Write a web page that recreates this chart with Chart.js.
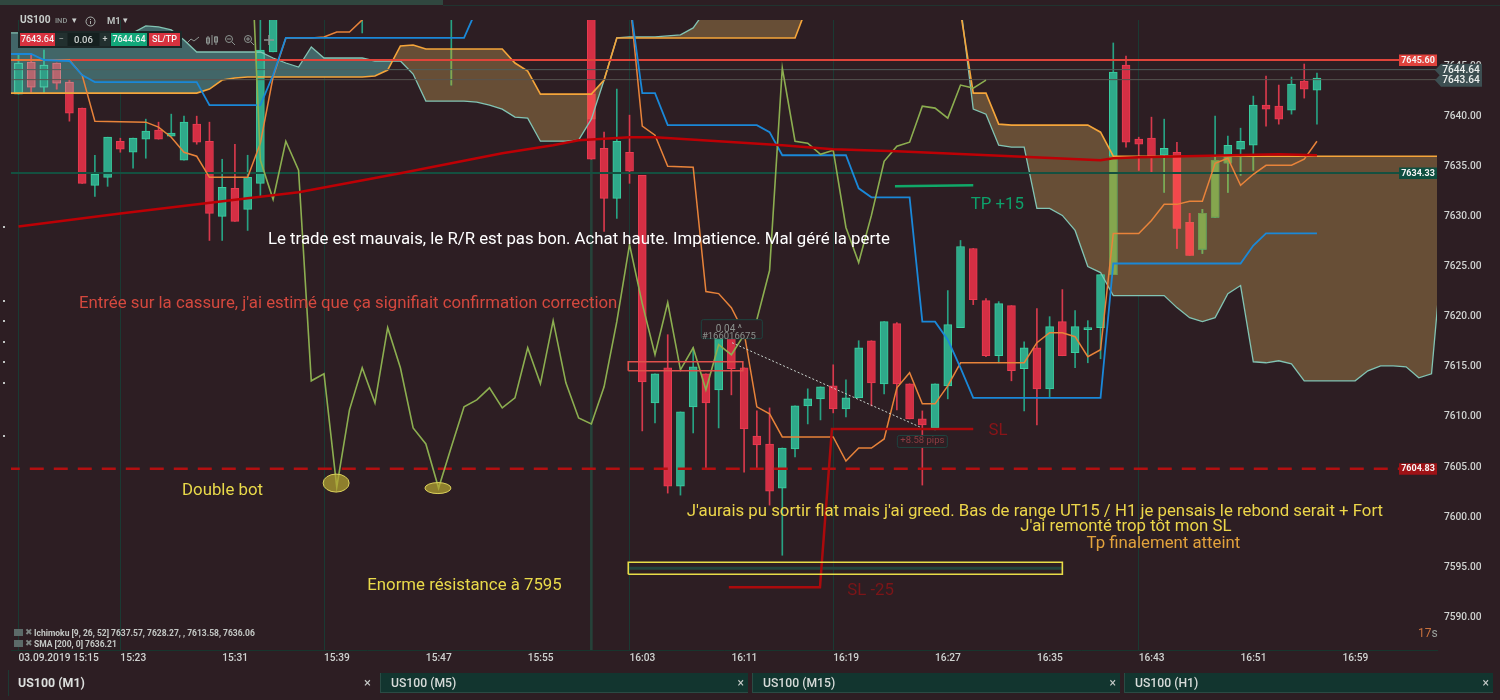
<!DOCTYPE html>
<html>
<head>
<meta charset="utf-8">
<title>US100 (M1)</title>
<script src="https://cdn.jsdelivr.net/npm/chart.js@4"></script>
<style>
    body { margin: 0; width: 1500px; height: 700px; overflow: hidden; background: #2d1e23; font-family: Roboto, sans-serif; position: relative; }
    canvas { position: absolute; left: 0; top: 0; }
    .ui { position: absolute; white-space: nowrap; }
    .box { text-align: center; height: 13px; line-height: 13px; font-size: 9px; font-weight: 500; color: #f4f4f4; top: 33px; }
    .tab { top: 673px; height: 20px; line-height: 20px; background: #12352f; border-left: 1px solid #2a4b44; border-bottom: 1px solid #2a4b44; box-sizing: border-box; color: #d8dcda; font-size: 12.2px; font-weight: 500; padding-left: 10px; }
    .tab span { position: absolute; right: 4px; top: 0; font-weight: 400; color: #c8ccca; }
    .tool { top: 34px; }
</style>
</head>
<body>
<canvas id="chart" width="1500" height="700"></canvas>

<div class="ui" style="left:0;top:0;width:443px;height:5px;background:#30473f"></div>
<div class="ui" style="left:443px;top:5px;width:1057px;height:1px;background:#20332f"></div>

<div class="ui" style="left:20px;top:14px;font-size:10.2px;font-weight:700;color:#c9cecb">US100</div>
<div class="ui" style="left:55px;top:16px;font-size:7.5px;font-weight:500;color:#8f9693">IND</div>
<div class="ui" style="left:72px;top:15px;font-size:9px;color:#c9cecb">▾</div>
<svg class="ui" style="left:85px;top:16px" width="11" height="11"><circle cx="5.5" cy="5.5" r="4.5" fill="none" stroke="#a9afac"/><path d="M5.5 5v3M5.5 3v1" stroke="#a9afac"/></svg>
<div class="ui" style="left:107px;top:15px;font-size:9.5px;font-weight:700;color:#b9bfbc">M1</div>
<div class="ui" style="left:123px;top:15px;font-size:9px;color:#c9cecb">▾</div>

<div class="ui" style="left:18px;top:31px;width:164px;height:17px;background:#1c2727"></div>
<div class="ui box" style="left:20px;width:35px;background:#d9323f">7643.64</div>
<div class="ui box" style="left:55px;width:12px;background:#22302f;color:#9aa19e">−</div>
<div class="ui box" style="left:68px;width:31px;background:#15201f;color:#d2d6d4;font-size:9.5px">0.06</div>
<div class="ui box" style="left:100px;width:10px;background:#22302f;color:#c5cac8">+</div>
<div class="ui box" style="left:111px;width:36px;background:#12a87a">7644.64</div>
<div class="ui box" style="left:149px;width:31px;background:#d9323f">SL/TP</div>
<svg class="ui tool" style="left:186px" width="100" height="12" fill="none" stroke="#8d9491">
    <path d="M1 9l4-4 3 2 5-4"/>
    <path d="M22 2v9M26 1v10M30 2v9"/><rect x="20.5" y="4" width="3" height="5"/><rect x="28.5" y="3" width="3" height="5"/>
    <circle cx="43" cy="5" r="3.5"/><path d="M46 8l3 3M41 5h4"/>
    <circle cx="62" cy="5" r="3.5"/><path d="M65 8l3 3M60 5h4M62 3v4"/>
    <path d="M83 1v10M78 6h10" stroke-width="1.5"/>
</svg>

<div class="ui" style="left:34px;top:628px;font-size:8.5px;font-weight:700;color:#c4c8c5">Ichimoku [9, 26, 52] 7637.57, 7628.27, , 7613.58, 7636.06</div>
<div class="ui" style="left:34px;top:639px;font-size:8.5px;font-weight:700;color:#c4c8c5">SMA [200, 0] 7636.21</div>
<div class="ui" style="left:14px;top:629px;width:9px;height:7px;background:#5c6a68"></div>
<div class="ui" style="left:14px;top:640px;width:9px;height:7px;background:#5c6a68"></div>
<div class="ui" style="left:25px;top:627px;font-size:9px;color:#7d8583">✖</div>
<div class="ui" style="left:25px;top:638px;font-size:9px;color:#7d8583">✖</div>
<div class="ui" style="left:1418px;top:626px;font-size:12px;color:#c8703c">17<span style="color:#9aa09c">s</span></div>

<div class="ui" style="left:8px;top:670px;width:1px;height:26px;background:#1d3a34"></div>
<div class="ui" style="left:18px;top:673px;line-height:20px;font-size:12.4px;font-weight:700;color:#dcdfdd">US100 (M1)</div>
<div class="ui" style="left:364px;top:673px;line-height:20px;font-size:13px;color:#c8ccca">×</div>
<div class="ui tab" style="left:380px;width:368px">US100 (M5)<span>×</span></div>
<div class="ui tab" style="left:752px;width:368px">US100 (M15)<span>×</span></div>
<div class="ui tab" style="left:1124px;width:369px">US100 (H1)<span>×</span></div>

<script>
// candles, one per minute from 15:15 (index 0), prices
const opens = [
    7642.2, 7645.4, 7642.9, 7645.3, 7643.4, 7640.8, 7633.1, 7633.9, 7637.5, 7636.4,
    7637.7, 7638.6, 7638.0, 7635.6, 7639.2, 7637.5, 7630.0, 7632.8, 7630.7, 7633.3,
    7646.4, null, null, null, null, null, null, null, null, null,
    null, null, null, null, null, null, null, null, null, null,
    null, null, null, null, null, 7652.0, 7636.8, 7631.8, 7636.4, 7634.1,
    7611.4, 7614.9, 7603.1, 7611.0, 7614.3, 7612.7, 7617.9, 7614.9, 7608.1, 7607.3,
    7602.9, 7606.8, 7611.1, 7611.8, 7613.1, 7610.8, 7611.9, 7617.6, 7613.3, 7619.3,
    7613.3, 7609.8, 7608.9, 7613.1, 7618.9, 7626.8, 7621.6, 7616.1, 7621.1, 7614.8,
    7616.9, 7612.8, 7619.5, 7616.4, 7618.7, 7618.9, 7624.2, 7645.1, 7637.7, 7637.8,
    7636.1, 7636.4, 7629.4, 7626.7, 7629.9, 7635.3, 7636.7, 7637.1, 7641.1, 7641.0,
    7640.6, 7643.5, 7642.6
];
const closes = [
    7645.3, 7642.9, 7645.1, 7643.3, 7640.3, 7633.3, 7634.2, 7637.9, 7636.7, 7637.8,
    7638.5, 7637.7, 7638.3, 7639.4, 7637.4, 7630.3, 7632.9, 7629.5, 7633.9, 7646.6,
    7652.0, null, null, null, null, null, null, null, null, null,
    null, null, null, null, null, null, null, null, null, null,
    null, null, null, null, null, 7635.7, 7631.8, 7637.5, 7634.5, 7613.5,
    7614.3, 7603.1, 7610.5, 7615.0, 7611.4, 7618.9, 7614.8, 7608.8, 7607.2, 7602.6,
    7606.9, 7611.1, 7611.8, 7613.0, 7610.8, 7611.9, 7616.9, 7613.4, 7619.5, 7613.3,
    7609.8, 7609.2, 7613.3, 7619.2, 7627.0, 7621.7, 7616.1, 7621.3, 7614.6, 7616.9,
    7612.8, 7619.0, 7616.1, 7619.0, 7618.9, 7624.2, 7644.4, 7637.4, 7637.2, 7636.0,
    7636.8, 7628.8, 7626.1, 7630.3, 7635.6, 7637.1, 7637.5, 7641.1, 7640.7, 7639.7,
    7643.2, 7642.7, 7643.8
];
const highs = [
    7646.1, 7646.1, 7646.6, 7645.3, 7643.6, 7640.8, 7636.1, 7637.9, 7637.8, 7637.8,
    7639.7, 7639.4, 7640.2, 7640.0, 7640.0, 7639.4, 7635.7, 7637.2, 7636.1, 7652.0,
    7652.0, null, null, null, null, null, null, 7652.0, null, null,
    null, null, null, null, 7652.0, null, null, null, null, null,
    null, null, null, null, null, 7652.0, 7638.4, 7642.7, 7640.1, 7634.1,
    7614.3, 7618.2, 7610.5, 7616.9, 7614.3, 7618.9, 7617.9, 7614.9, 7610.6, 7610.9,
    7606.9, 7611.1, 7612.8, 7613.0, 7615.2, 7613.7, 7617.6, 7617.6, 7619.5, 7619.4,
    7613.3, 7610.6, 7613.3, 7622.6, 7627.6, 7626.8, 7621.8, 7621.5, 7621.1, 7617.5,
    7620.8, 7620.0, 7622.7, 7620.6, 7619.6, 7624.2, 7647.3, 7646.0, 7637.9, 7639.9,
    7639.7, 7637.4, 7630.3, 7630.7, 7640.0, 7638.0, 7638.8, 7642.0, 7644.0, 7643.1,
    7643.9, 7645.2, 7644.3
];
const lows = [
    7642.2, 7642.4, 7642.3, 7642.7, 7639.5, 7633.3, 7632.0, 7633.0, 7636.4, 7634.8,
    7635.8, 7637.7, 7638.0, 7635.6, 7637.2, 7627.6, 7627.6, 7629.5, 7628.6, 7631.9,
    7646.4, null, null, null, null, null, null, 7648.3, null, null,
    null, null, null, null, 7643.1, null, null, null, null, null,
    null, null, null, null, null, 7635.7, 7628.5, 7629.8, 7633.3, 7608.6,
    7609.4, 7602.4, 7602.2, 7608.4, 7604.9, 7608.9, 7612.2, 7604.5, 7604.9, 7601.2,
    7596.2, 7606.0, 7609.3, 7609.7, 7610.4, 7610.0, 7611.9, 7611.1, 7612.3, 7610.7,
    7609.8, 7603.2, 7608.7, 7611.8, 7618.9, 7621.2, 7616.0, 7615.4, 7613.6, 7610.6,
    7609.2, 7611.9, 7616.1, 7614.9, 7615.4, 7615.8, 7624.2, 7636.9, 7634.6, 7634.3,
    7632.4, 7626.8, 7626.1, 7626.3, 7629.9, 7632.4, 7634.1, 7634.6, 7639.0, 7639.2,
    7640.2, 7641.8, 7639.2
];

// ichimoku cloud edges, first value is index -1, last is index 112
const spanA = [
    7642.3, 7642.3, 7642.3, 7642.3, 7642.3, 7642.3, 7642.3, 7642.3, 7642.3, 7642.3,
    7642.3, 7642.3, 7642.3, 7642.3, 7642.3, 7642.3, 7642.7, 7643.6, 7643.8, 7643.9,
    7643.9, 7643.9, 7643.9, 7643.9, 7643.9, 7643.9, 7643.9, 7643.9, 7643.9, 7644.0,
    7644.6, 7647.0, 7647.1, 7646.7, 7646.7, 7646.7, 7646.7, 7646.7, 7646.7, 7646.7,
    7645.3, 7644.5, 7642.2, 7642.2, 7642.2, 7642.2, 7642.2, 7643.6, 7647.8, 7647.8,
    7647.8, 7647.8, 7647.8, 7647.8, 7647.8, 7647.8, 7647.8, 7647.8, 7647.8, 7647.8,
    7647.8, 7647.8, 7647.8, 7651.1, 7651.1, 7651.1, 7651.1, 7651.1, 7651.1, 7651.1,
    7651.1, 7651.1, 7651.1, 7651.1, 7651.1, 7650.4, 7642.3, 7642.3, 7639.2, 7639.1,
    7639.1, 7639.1, 7639.1, 7639.1, 7639.1, 7639.1, 7638.4, 7636.0, 7636.0, 7636.0,
    7636.0, 7636.0, 7636.0, 7636.0, 7636.0, 7636.0, 7636.0, 7636.0, 7636.0, 7636.0,
    7636.0, 7636.0, 7636.0, 7636.0, 7636.0, 7636.0, 7636.0, 7636.0, 7636.0, 7636.0,
    7636.0, 7636.0, 7636.0, 7636.0
];
const spanB = [
    7648.3, 7648.3, 7648.3, 7648.3, 7648.3, 7648.3, 7648.3, 7648.3, 7648.3, 7648.3,
    7648.3, 7649.0, 7648.9, 7648.6, 7647.6, 7646.4, 7646.4, 7646.4, 7646.4, 7646.4,
    7646.4, 7645.8, 7645.3, 7644.9, 7646.9, 7645.8, 7645.8, 7645.8, 7645.8, 7645.5,
    7645.5, 7645.5, 7644.2, 7641.5, 7641.5, 7641.5, 7641.5, 7641.4, 7641.1, 7640.7,
    7639.9, 7639.8, 7637.5, 7637.5, 7637.5, 7637.6, 7639.7, 7643.6, 7647.8, 7647.9,
    7647.9, 7647.9, 7648.0, 7648.1, 7648.8, 7650.6, 7650.6, 7650.6, 7650.6, 7650.6,
    7650.6, 7650.6, 7650.6, 7650.6, 7650.6, 7650.6, 7650.6, 7650.6, 7650.6, 7650.6,
    7650.6, 7650.6, 7650.6, 7650.6, 7650.6, 7651.1, 7640.7, 7640.2, 7637.1, 7636.9,
    7636.9, 7630.8, 7630.8, 7630.1, 7628.6, 7625.0, 7624.4, 7622.1, 7622.1, 7622.1,
    7622.1, 7622.1, 7620.9, 7619.9, 7619.5, 7619.9, 7622.3, 7623.1, 7615.5, 7615.4,
    7615.6, 7615.3, 7613.6, 7613.6, 7613.6, 7613.6, 7613.6, 7614.6, 7615.1, 7615.1,
    7615.0, 7613.9, 7614.3, 7628.6
];

// lagging span, index 18 to 76
const chikouStart = 18;
const chikou = [
    7665.0, 7635.6, 7631.7, 7637.5, 7634.6, 7613.6, 7614.3, 7603.0, 7610.7, 7614.9,
    7611.4, 7618.9, 7614.9, 7608.9, 7607.3, 7602.9, 7607.0, 7611.0, 7611.7, 7612.9,
    7610.9, 7611.9, 7616.9, 7613.3, 7619.6, 7613.4, 7609.9, 7609.3, 7613.0, 7619.5,
    7627.2, 7621.3, 7616.2, 7621.4, 7614.7, 7616.9, 7612.7, 7617.2, 7616.2, 7618.2,
    7619.7, 7624.6, 7644.8, 7637.5, 7637.3, 7636.2, 7636.6, 7628.9, 7625.4, 7630.1,
    7635.5, 7637.0, 7637.4, 7641.0, 7640.8, 7639.8, 7643.1, 7642.8, 7643.6
];

// base and conversion lines only change at these indexes; null is a stretch above the window
const kijunIdx = [-1, 1, 2, 4, 5, 6, 14, 15, 19, 20, 21, 35, 36, 37, 48, 49, 50, 51, 58, 59, 60, 65, 66, 67, 70, 71, 72, 73, 74, 75, 85, 86, 96, 97, 98, 102];
const kijun = [7646.2, 7646.2, 7645.6, 7645.5, 7644.1, 7643.4, 7643.4, 7641.1, 7641.1, 7644.1, 7647.8, 7647.8, 7650.7, null, 7651.6, 7642.3, 7642.3, 7639.1, 7639.1, 7638.4, 7636.1, 7636.1, 7632.8, 7631.9, 7631.9, 7619.5, 7619.5, 7617.7, 7614.9, 7611.9, 7611.9, 7625.3, 7625.3, 7627.1, 7628.3, 7628.3];
const tenkanIdx = [-1, 4, 5, 6, 10, 11, 12, 13, 14, 15, 18, 19, 20, 21, 23, 24, 25, 26, 27, 28, 29, 48, 49, 50, 51, 53, 54, 55, 56, 57, 58, 59, 60, 64, 65, 66, 67, 68, 69, 70, 71, 72, 73, 74, 79, 80, 81, 82, 83, 84, 85, 86, 88, 89, 90, 91, 92, 93, 94, 95, 96, 97, 98, 100, 101, 102];
const tenkan = [7645.6, 7645.6, 7644.1, 7639.5, 7639.4, 7638.9, 7637.9, 7636.4, 7636.0, 7633.9, 7633.9, 7637.3, 7643.9, 7647.8, 7647.8, 7647.9, 7648.4, 7648.4, 7649.6, 7651.1, null, 7651.9, 7639.0, 7638.1, 7635.0, 7634.9, 7622.5, 7622.3, 7620.9, 7618.4, 7611.0, 7610.3, 7608.0, 7608.0, 7605.6, 7606.9, 7606.9, 7607.8, 7612.9, 7614.4, 7611.3, 7611.3, 7613.1, 7615.4, 7615.4, 7617.4, 7618.4, 7618.4, 7618.0, 7616.0, 7616.7, 7628.3, 7628.3, 7629.6, 7631.2, 7631.2, 7631.5, 7631.5, 7635.3, 7635.8, 7633.1, 7634.2, 7635.1, 7635.1, 7635.7, 7637.5];
const smaIdx = [0, 8, 18, 22, 30, 38, 42, 44, 48, 50, 60, 64, 69, 78, 85, 86, 88, 99, 102];
const sma = [7629.0, 7630.3, 7631.8, 7632.4, 7634.3, 7636.3, 7637.1, 7637.6, 7637.9, 7637.9, 7637.1, 7636.7, 7636.5, 7636.0, 7635.6, 7635.8, 7635.9, 7636.2, 7636.1];

// axis
const timeTicks = [0, 8, 16, 24, 32, 40, 48, 56, 64, 72, 80, 88, 96, 104];
const timeLabels = ['03.09.2019 15:15', '15:23', '15:31', '15:39', '15:47', '15:55', '16:03', '16:11', '16:19', '16:27', '16:35', '16:43', '16:51', '16:59'];
const gridTicks = [0, 8, 24, 48, 64, 88];
const priceTicks = [7590, 7595, 7600, 7605, 7610, 7615, 7620, 7625, 7630, 7635, 7640, 7645];

// drawn on the chart by hand in the original
const bidLine = 7645.60, askA = 7644.64, askB = 7643.64, tradeLine = 7634.33, floorLine = 7604.83;
const stopIdx = [55.8, 62.96, 63.9, 75];
const stopPrice = [7593.0, 7593.0, 7608.8, 7608.8];
const tpIdx = [68.85, 75];
const tpPrice = [7633.0, 7633.1];
const tradeIdx = [56.05, 70.8];
const tradePrice = [7617.4, 7609.0];
const boxIdx = [47.9, 82.0];
const boxPrice = [7594.3, 7595.5];
const entryIdx = [47.9, 56.9];
const entryPrice = [7614.6, 7615.5];
const bottomIdx = [24.95, 32.95];
const bottomPrice = [7603.4, 7602.9];

const noteText = [
    'Le trade est mauvais, le R/R est pas bon. Achat haute. Impatience. Mal géré la perte',
    "Entrée sur la cassure, j'ai estimé que ça signifiait confirmation correction",
    'Double bot',
    'Enorme résistance à 7595',
    "J'aurais pu sortir flat mais j'ai greed. Bas de range UT15 / H1 je pensais le rebond serait + Fort",
    "J'ai remonté trop tôt mon SL",
    'Tp finalement atteint',
    'SL',
    'SL -25',
    'TP +15'
];
const noteIdx = [19.6, 4.75, 12.85, 27.4, 52.5, 78.7, 83.9, 76.2, 65.1, 74.8];
const notePrice = [7627.7, 7621.3, 7602.6, 7593.2, 7600.5, 7599.0, 7597.3, 7608.6, 7592.7, 7631.2];
const noteColor = ['#ffffff', '#d4483e', '#e9da4a', '#e9da4a', '#ecd64a', '#ecd64a', '#e2a23c', '#8a1418', '#7c1518', '#0da06a'];

const UP = '#2fa98a', DOWN = '#d42f44';

function pairs(xs, ys) {
    return xs.map((x, i) => ({ x: x, y: ys[i] }));
}
function spanPoints(values, from, to) {
    const out = [];
    for (let i = from; i <= to; i++) out.push({ x: i, y: values[i + 1] });
    return out;
}
// part of a candle range that sits inside the cloud, it shows through in another tint
function insideCloud(a, b, i) {
    const top = Math.min(Math.max(a, b), Math.max(spanA[i + 1], spanB[i + 1]));
    const bot = Math.max(Math.min(a, b), Math.min(spanA[i + 1], spanB[i + 1]));
    return top > bot ? [bot, top] : null;
}

const wicks = [], wickColors = [], wickTint = [], wickTintColors = [];
const bodies = [], bodyColors = [], bodyEdges = [], bodyTint = [], tintColors = [], tintEdges = [];
highs.forEach((h, i) => {
    if (h === null) return;
    const isUp = opens[i] === null || closes[i] >= opens[i];
    const brown = i >= 30;
    wicks.push({ x: i, y: [lows[i], h] });
    wickColors.push(isUp ? '#27a283' : '#d8394c');
    const w = insideCloud(lows[i], h, i);
    if (w) {
        wickTint.push({ x: i, y: w });
        wickTintColors.push(brown ? (isUp ? '#85a64e' : '#e8484c') : (isUp ? '#3fb596' : '#c0656e'));
    }
    if (opens[i] === null) return;
    bodies.push({ x: i, y: [opens[i], closes[i]] });
    bodyColors.push(isUp ? UP : DOWN);
    bodyEdges.push(isUp ? '#3ad0a0' : '#ea3c52');
    const b = insideCloud(opens[i], closes[i], i);
    if (b) {
        bodyTint.push({ x: i, y: b });
        tintColors.push(brown ? (isUp ? '#85a64e' : '#f2484c') : (isUp ? '#2f9e86' : '#b5656e'));
        tintEdges.push(brown ? (isUp ? '#76994a' : '#e05a50') : (isUp ? '#55d0ac' : '#cf7f86'));
    }
});

function lineSet(data, color, width, order, extra) {
    return Object.assign({ type: 'line', data: data, borderColor: color, borderWidth: width, pointRadius: 0, tension: 0, order: order, fill: false }, extra);
}
function hLine(value, color, width, order, extra) {
    return lineSet(pairs([-1, 112], [value, value]), color, width, order, extra);
}
function barSet(data, colors, thick, order, edges) {
    return {
        type: 'bar', data: data, backgroundColor: colors, barThickness: thick, grouped: false, order: order,
        borderColor: edges || colors, borderWidth: edges ? 1 : 0, borderSkipped: false
    };
}

const datasets = [
    // cloud, split so the part after the crossing stays brown
    lineSet(spanPoints(spanB, -1, 47), 'transparent', 0, 20),
    lineSet(spanPoints(spanA, -1, 47), 'transparent', 0, 20, { fill: { target: 0, above: '#674e36', below: '#426668' } }),
    lineSet(spanPoints(spanB, 47, 112), 'transparent', 0, 20),
    lineSet(spanPoints(spanA, 47, 112), 'transparent', 0, 20, { fill: { target: 2, above: '#674e36', below: '#674e36' } }),
    barSet([{ x: 45, y: [7580, 7635.7] }], ['#264239'], 2, 19),
    barSet(wicks, wickColors, 1, 18),
    barSet(wickTint, wickTintColors, 1, 17),
    barSet(bodies, bodyColors, 8, 16, bodyEdges),
    barSet(bodyTint, tintColors, 8, 15, tintEdges),
    lineSet(pairs(boxIdx, [7594.9, 7594.9]), '#22443e', 3, 14),
    lineSet(spanPoints(spanB, -1, 112), '#82c4b4', 1.3, 12),
    lineSet(spanPoints(spanA, -1, 112), '#f5a53a', 1.6, 11),
    hLine(bidLine, '#e0443a', 2, 10),
    hLine(askA, '#4f5e5c', 1, 10),
    hLine(askB, '#565450', 1, 10),
    hLine(tradeLine, '#145040', 2, 10),
    hLine(floorLine, '#b30f10', 2.5, 10, { borderDash: [14, 10] }),
    lineSet(pairs(tenkanIdx, tenkan), '#e8833a', 1.5, 8),
    lineSet(pairs(kijunIdx, kijun), '#1a88d8', 1.8, 7),
    lineSet(chikou.map((v, i) => ({ x: i + chikouStart, y: v })), '#8cae50', 1.6, 6),
    lineSet(pairs(smaIdx, sma), '#bd0005', 2.5, 5),
    lineSet(pairs(stopIdx, stopPrice), '#ac0a0c', 2.5, 4),
    lineSet(pairs(tpIdx, tpPrice), '#10a868', 2.5, 4),
    lineSet(pairs(tradeIdx, tradePrice), '#c8d2cc', 1, 4, { borderDash: [2, 2] }),
    lineSet(pairs([boxIdx[0], boxIdx[1], boxIdx[1], boxIdx[0], boxIdx[0]], [boxPrice[0], boxPrice[0], boxPrice[1], boxPrice[1], boxPrice[0]]), '#e8dc48', 1.6, 3),
    lineSet(pairs([entryIdx[0], entryIdx[1], entryIdx[1], entryIdx[0], entryIdx[0]], [entryPrice[0], entryPrice[0], entryPrice[1], entryPrice[1], entryPrice[0]]), '#e0504c', 1.6, 3)
];

// notes, price tags and the other things the library has no element for
const overlay = {
    id: 'overlay',
    afterDraw(chart) {
        const c = chart.ctx, sx = chart.scales.x, sy = chart.scales.y;
        const px = v => sx.getPixelForValue(v), py = v => sy.getPixelForValue(v);
        c.save();
        c.beginPath();
        c.rect(chart.chartArea.left, chart.chartArea.top, chart.chartArea.width, chart.chartArea.height);
        c.clip();
        [[13, 9], [13, 5.5]].forEach((r, i) => {
            c.beginPath();
            c.ellipse(px(bottomIdx[i]), py(bottomPrice[i]), r[0], r[1], 0, 0, Math.PI * 2);
            c.fillStyle = 'rgba(180,165,50,0.72)';
            c.strokeStyle = '#dcd25c';
            c.lineWidth = 1;
            c.fill();
            c.stroke();
        });
        c.restore();

        c.textBaseline = 'middle';
        c.textAlign = 'left';
        noteText.forEach((t, i) => {
            c.font = '16.8px Roboto';
            c.fillStyle = noteColor[i];
            c.fillText(t, px(noteIdx[i]), py(notePrice[i]));
        });

        // leftovers of the side toolbar
        c.fillStyle = '#c0c4c2';
        [226, 300, 320, 341, 361, 382, 435].forEach(y => c.fillRect(3, y, 2, 2));

        // trade tags
        c.textAlign = 'center';
        c.strokeStyle = '#1e4540';
        c.fillStyle = '#2d1e23';
        c.lineWidth = 1;
        c.beginPath();
        c.roundRect(px(53.6) + 0.5, py(7619.7), 61, 19, 2);
        c.fill();
        c.stroke();
        c.font = '10px Roboto';
        c.fillStyle = '#8c928e';
        c.fillText('0.04 ^', px(55.8), py(7618.7));
        c.font = '9.5px Roboto';
        c.fillText('#166016675', px(55.8), py(7618.0));
        c.fillStyle = '#2d1e23';
        c.beginPath();
        c.roundRect(px(69) + 0.5, py(7608.2) + 0.5, 50, 12, 2);
        c.fill();
        c.stroke();
        c.fillStyle = '#8e3d42';
        c.fillText('+8.58 pips', px(71), py(7607.6));

        // price boxes on the axis
        c.font = '700 9px Roboto';
        [[bidLine, '#e0423c'], [tradeLine, '#0e4f40'], [floorLine, '#9e1216']].forEach(t => {
            c.fillStyle = t[1];
            c.fillRect(1399, py(t[0]) - 5.5, 38, 11.5);
            c.fillStyle = '#f4f4f4';
            c.fillText(t[0].toFixed(2), 1418, py(t[0]) + 0.5);
        });
        c.font = '500 10.2px Roboto';
        [askA, askB].forEach(v => {
            const y = py(v) + 0.5;
            c.fillStyle = '#3d4f52';
            c.beginPath();
            c.moveTo(1435, y);
            c.lineTo(1441, y - 6.5);
            c.lineTo(1482, y - 6.5);
            c.lineTo(1482, y + 6.5);
            c.lineTo(1441, y + 6.5);
            c.closePath();
            c.fill();
            c.fillStyle = '#eef0ee';
            c.fillText(v.toFixed(2), 1461, y + 0.5);
        });
    }
};

new Chart(document.getElementById('chart').getContext('2d'), {
    type: 'line',
    data: { datasets: datasets },
    plugins: [overlay],
    options: {
        responsive: false,
        animation: false,
        events: [],
        layout: { padding: { left: 11, top: 20, right: 0, bottom: 20 } },
        plugins: { legend: { display: false }, tooltip: { enabled: false } },
        scales: {
            x: {
                type: 'linear',
                min: -0.589,
                max: 111.43,
                offset: false,
                afterFit(s) { s.height = 30; },
                afterBuildTicks(s) { s.ticks = timeTicks.map(v => ({ value: v })); },
                grid: {
                    offset: false,
                    drawTicks: false,
                    lineWidth: 1,
                    color: ctx => (ctx.tick && gridTicks.includes(ctx.tick.value)) ? '#1a3a33' : 'rgba(0,0,0,0)'
                },
                border: { color: '#17352d' },
                ticks: {
                    autoSkip: false,
                    maxRotation: 0,
                    align: 'start',
                    padding: 2,
                    color: '#cfd2d0',
                    font: { family: 'Roboto', size: 10.2, weight: '500' },
                    callback: v => timeLabels[timeTicks.indexOf(v)]
                }
            },
            y: {
                type: 'linear',
                position: 'right',
                min: 7586.75,
                max: 7649.59,
                beginAtZero: false,
                afterFit(s) { s.width = 63; },
                afterBuildTicks(s) { s.ticks = priceTicks.map(v => ({ value: v })); },
                grid: { display: false, drawTicks: false },
                border: { display: false },
                ticks: {
                    padding: 7,
                    color: '#cfd2d0',
                    font: { family: 'Roboto', size: 10.2, weight: '500' },
                    callback: v => v.toFixed(2)
                }
            }
        }
    }
});
</script>
</body>
</html>
